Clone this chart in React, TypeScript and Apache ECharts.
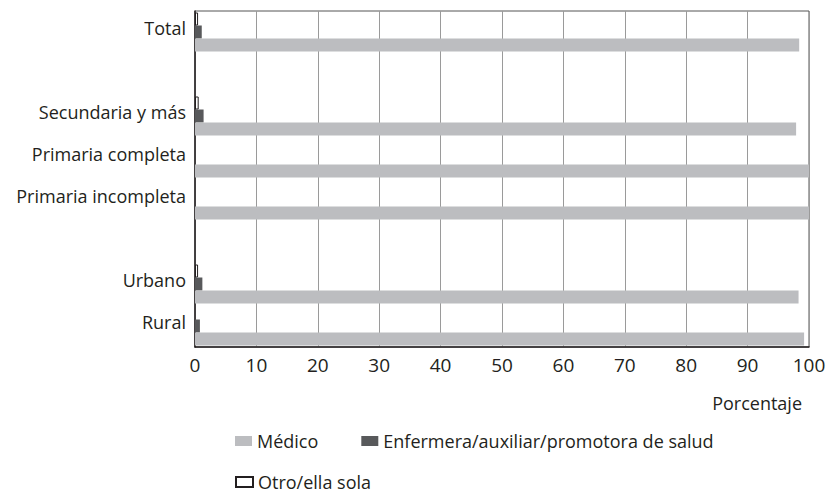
import React, { useEffect, useRef } from "react";
import * as echarts from "echarts";

const categories = [
  "Total",
  "",
  "Secundaria y más",
  "Primaria completa",
  "Primaria incompleta",
  " ",
  "Urbano",
  "Rural",
];
const medico = [98.4, null, 97.9, 100, 100, null, 98.3, 99.2];
const enfermera = [1.1, null, 1.4, null, null, null, 1.2, 0.8];
const otro = [0.5, null, 0.6, null, null, null, 0.5, null];
const xTicks = [0, 10, 20, 30, 40, 50, 60, 70, 80, 90, 100];

const FONT = "Open Sans";

export default function App() {
  const ref = useRef<HTMLDivElement>(null);
  useEffect(() => {
    if (!ref.current) return;
    const chart = echarts.init(ref.current, null, { renderer: "svg" });
    chart.setOption({
      animation: false,
      backgroundColor: "#ffffff",
      textStyle: { fontFamily: FONT, color: "#231f20" },
      grid: {
        left: 195,
        right: 26,
        top: 11,
        bottom: 147,
        show: true,
        borderColor: "#555555",
        borderWidth: 1,
      },
      legend: [
        {
          data: ["Médico", "Enfermera/auxiliar/promotora de salud"],
          left: 235,
          top: 432,
          padding: 0,
          itemWidth: 17,
          itemHeight: 10,
          itemGap: 43,
          icon: "rect",
          textStyle: { fontFamily: FONT, fontSize: 18, color: "#231f20" },
        },
        {
          data: ["Otro/ella sola"],
          left: 235,
          top: 473,
          padding: 0,
          itemWidth: 17,
          itemHeight: 10,
          icon: "rect",
          textStyle: { fontFamily: FONT, fontSize: 18, color: "#231f20" },
        },
      ],
      xAxis: {
        type: "value",
        min: 0,
        max: 100,
        interval: 10,
        name: "Porcentaje",
        nameLocation: "end",
        nameGap: 0,
        nameTextStyle: {
          fontFamily: FONT,
          fontSize: 18,
          color: "#231f20",
          align: "right",
          verticalAlign: "top",
          padding: [47, 7, 0, 0],
        },
        axisLine: { show: true, lineStyle: { color: "#231f20", width: 1.5 } },
        axisTick: { show: false },
        axisLabel: {
          fontFamily: FONT,
          fontSize: 19,
          color: "#231f20",
          margin: 8,
          formatter: (v: number) => (xTicks.includes(v) ? String(v) : ""),
        },
        splitLine: { show: true, lineStyle: { color: "#9a9a9a", width: 1 } },
      },
      yAxis: {
        type: "category",
        data: categories,
        inverse: true,
        axisLine: { show: true, lineStyle: { color: "#231f20", width: 1.5 } },
        axisTick: { show: false },
        axisLabel: {
          fontFamily: FONT,
          fontSize: 18,
          color: "#231f20",
          margin: 9,
          verticalAlign: "bottom",
          lineHeight: 8,
        },
      },
      series: [
        {
          name: "Otro/ella sola",
          type: "bar",
          data: otro,
          barWidth: 13,
          barGap: "0%",
          itemStyle: { color: "#ffffff", borderColor: "#231f20", borderWidth: 1 },
        },
        {
          name: "Enfermera/auxiliar/promotora de salud",
          type: "bar",
          data: enfermera,
          barWidth: 13,
          barGap: "0%",
          itemStyle: { color: "#58595b" },
        },
        {
          name: "Médico",
          type: "bar",
          data: medico,
          barWidth: 13,
          barGap: "0%",
          itemStyle: { color: "#bcbdc0" },
        },
      ],
    });
    return () => chart.dispose();
  }, []);
  return (
    <div
      ref={ref}
      style={{ position: "fixed", left: 0, top: 0, width: 835, height: 494 }}
    />
  );
}
